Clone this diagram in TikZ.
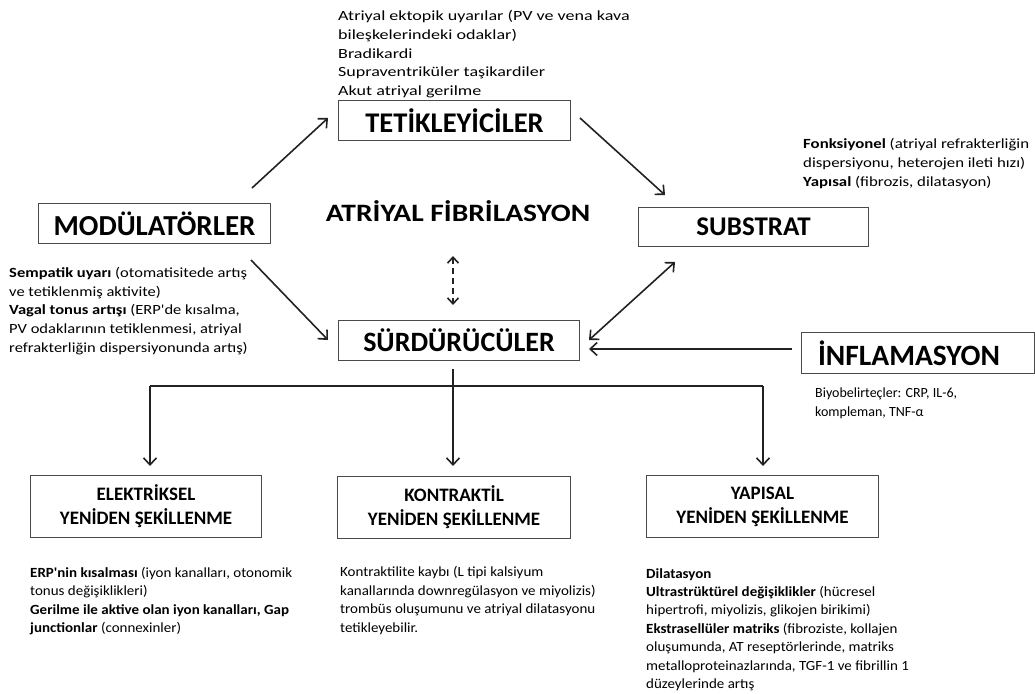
\documentclass[tikz,border=0pt]{standalone}
\usepackage{fontspec}
\setmainfont{Carlito}
\newfontfamily\topfont[FakeStretch=1.29]{Carlito}
\newfontfamily\modfont[FakeStretch=1.18]{Carlito}
\newfontfamily\subfont[FakeStretch=1.2]{Carlito}
\newfontfamily\botfont[FakeStretch=1.07]{Carlito}
\newfontfamily\affont[FakeStretch=1.18]{Carlito}
\usetikzlibrary{arrows.meta}
\definecolor{boxgray}{HTML}{4A4A4A}
\definecolor{arrowgray}{HTML}{222222}
\tikzset{
  bigbox/.style={draw=boxgray, line width=1.1pt, anchor=north west, inner sep=0pt,
    font=\bfseries\fontsize{28}{30}\selectfont},
  remodbox/.style={draw=boxgray, line width=1.1pt, anchor=north west, inner sep=0pt,
    align=center, font=\bfseries\fontsize{19}{24}\selectfont},
  note/.style={anchor=north west, inner sep=0pt, align=left},
  arr/.style={draw=arrowgray, line width=1.6pt, -{Straight Barb[length=7pt,width=13pt,line width=1.6pt]}},
  darr/.style={draw=arrowgray, line width=1.6pt, {Straight Barb[length=7pt,width=13pt,line width=1.6pt]}-{Straight Barb[length=7pt,width=13pt,line width=1.6pt]}},
  dasharr/.style={draw=arrowgray, line width=1.6pt, dash pattern=on 6pt off 4pt, {Straight Barb[length=6pt,width=11pt,line width=1.6pt]}-{Straight Barb[length=6pt,width=11pt,line width=1.6pt]}},
  plain/.style={draw=arrowgray, line width=1.6pt}
}
\begin{document}
\begin{tikzpicture}[x=1pt,y=-1pt]
\useasboundingbox (0,0) rectangle (1035,693);
% boxes
\node[bigbox, minimum width=232pt, minimum height=40pt, font=\bfseries\fontsize{28.5}{30}\selectfont] (tet) at (338,100) {TETİKLEYİCİLER};
\node[bigbox, minimum width=232pt, minimum height=40pt, font=\bfseries\fontsize{29}{30}\selectfont] (mod) at (38,203) {MODÜLATÖRLER};
\node[bigbox, minimum width=230pt, minimum height=39pt, font=\bfseries\fontsize{27}{30}\selectfont] (sub) at (638,207) {SUBSTRAT};
\node[bigbox, minimum width=241pt, minimum height=40pt] (sur) at (338,320) {SÜRDÜRÜCÜLER};
\node[bigbox, minimum width=233pt, minimum height=41pt, text width=220pt, align=left, font=\bfseries\fontsize{29.5}{30}\selectfont] (inf) at (801,332) {\hspace*{10pt}İNFLAMASYON};
\node[font=\affont\bfseries\fontsize{25}{30}\selectfont, inner sep=0pt] (af) at (458,211) {ATRİYAL FİBRİLASYON};
\node[remodbox, minimum width=231pt, minimum height=62pt] (ele) at (30,475) {ELEKTRİKSEL\\YENİDEN ŞEKİLLENME};
\node[remodbox, minimum width=233pt, minimum height=62pt] (kon) at (337,476) {KONTRAKTİL\\YENİDEN ŞEKİLLENME};
\node[remodbox, minimum width=232pt, minimum height=62pt] (yap) at (646,475) {YAPISAL\\YENİDEN ŞEKİLLENME};
% notes
\node[note, font=\topfont\fontsize{14}{18.8}\selectfont] (ntet) at (338,10) {Atriyal ektopik uyarılar (PV ve vena kava\\bileşkelerindeki odaklar)\\Bradikardi\\Supraventriküler taşikardiler\\Akut atriyal gerilme};
\node[note, font=\modfont\fontsize{14}{18.7}\selectfont] (nmod) at (9,267) {\textbf{Sempatik uyarı} (otomatisitede artış\\ve tetiklenmiş aktivite)\\\textbf{Vagal tonus artışı} (ERP'de kısalma,\\PV odaklarının tetiklenmesi, atriyal\\refrakterliğin dispersiyonunda artış)};
\node[note, font=\subfont\fontsize{14}{18.8}\selectfont] (nsub) at (803,138) {\textbf{Fonksiyonel} (atriyal refrakterliğin\\dispersiyonu, heterojen ileti hızı)\\\textbf{Yapısal} (fibrozis, dilatasyon)};
\node[note, font=\fontsize{14}{18.5}\selectfont] (ninf) at (815,388) {Biyobelirteçler: CRP, IL-6,\\kompleman, TNF-α};
\node[note, font=\botfont\fontsize{14}{18.5}\selectfont] (nele) at (30,567) {\textbf{ERP'nin kısalması} (iyon kanalları, otonomik\\tonus değişiklikleri)\\\textbf{Gerilme ile aktive olan iyon kanalları, Gap}\\\textbf{junctionlar} (connexinler)};
\node[note, font=\botfont\fontsize{14}{18.6}\selectfont] (nkon) at (340,566) {Kontraktilite kaybı (L tipi kalsiyum\\kanallarında downregülasyon ve miyolizis)\\trombüs oluşumunu ve atriyal dilatasyonu\\tetikleyebilir.};
\node[note, font=\botfont\fontsize{14}{18.4}\selectfont] (nyap) at (646,568) {\textbf{Dilatasyon}\\\textbf{Ultrastrüktürel değişiklikler} (hücresel\\hipertrofi, miyolizis, glikojen birikimi)\\\textbf{Ekstrasellüler matriks} (fibroziste, kollajen\\oluşumunda, AT reseptörlerinde, matriks\\metalloproteinazlarında, TGF-1 ve fibrillin 1\\düzeylerinde artış};
% connector coordinates
\coordinate (m1) at (252,188);
\coordinate (t1) at (328,118);
\coordinate (t2) at (580,118);
\coordinate (s1) at (665,195);
\coordinate (m2) at (251,260);
\coordinate (r1) at (328,340);
\coordinate (s2) at (675,262);
\coordinate (r2) at (589,340);
\coordinate (i1) at (792,349);
\coordinate (r3) at (589,349);
\coordinate (a1) at (453,256);
\coordinate (a2) at (453,305);
\coordinate (r4) at (453,369);
\coordinate (hl) at (150,386);
\coordinate (hr) at (763,386);
\coordinate (e1) at (150,466);
\coordinate (k1) at (453,466);
\coordinate (y1) at (763,466);
% connectors
\draw[arr] (m1) -- (t1);
\draw[arr] (t2) -- (s1);
\draw[arr] (m2) -- (r1);
\draw[darr] (s2) -- (r2);
\draw[arr] (i1) -- (r3);
\draw[dasharr] (a1) -- (a2);
\draw[plain] (hl) -- (hr);
\draw[arr] (r4) -- (k1);
\draw[arr] (hl) -- (e1);
\draw[arr] (hr) -- (y1);
\end{tikzpicture}
\end{document}
